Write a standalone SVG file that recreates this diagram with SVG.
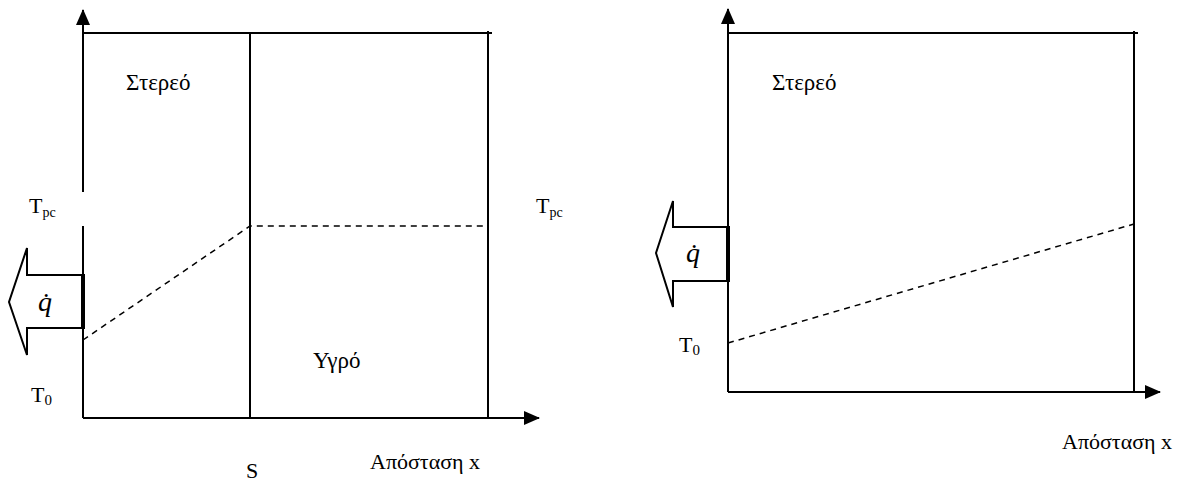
<svg xmlns="http://www.w3.org/2000/svg" width="1191" height="481" viewBox="0 0 1191 481">
<style>
.ln{stroke:#000;stroke-width:2;fill:none}
.ds{stroke:#000;stroke-width:1.5;fill:none;stroke-dasharray:6 5}
.ar{stroke:#000;stroke-width:2;fill:#fff}
.t{font-family:'Liberation Serif','Times New Roman',serif;font-size:22px;fill:#000}
.big{font-size:23px}
.q{font-family:'Liberation Serif','Times New Roman',serif;font-size:28px;font-style:italic;fill:#000}
</style>
<defs>
<marker id="ah" viewBox="0 0 16 14" refX="15" refY="7" markerWidth="16" markerHeight="14" markerUnits="userSpaceOnUse" orient="auto">
<path d="M0,0 L16,7 L0,14 Z" fill="#000"/>
</marker>
</defs>
<g id="connectors">
<line class="ln" x1="83" y1="192" x2="83" y2="10" marker-end="url(#ah)"/>
<line class="ln" x1="83" y1="226" x2="83" y2="418"/>
<line class="ln" x1="83" y1="418" x2="539" y2="418" marker-end="url(#ah)"/>
<line class="ln" x1="83" y1="33" x2="492" y2="33"/>
<line class="ln" x1="250" y1="33" x2="250" y2="418"/>
<line class="ln" x1="488" y1="31" x2="488" y2="418"/>
<polyline class="ds" points="83,340 250,226 488,226"/>
<line class="ln" x1="728" y1="392" x2="728" y2="9" marker-end="url(#ah)"/>
<line class="ln" x1="728" y1="392" x2="1160" y2="392" marker-end="url(#ah)"/>
<line class="ln" x1="728" y1="33" x2="1138" y2="33"/>
<line class="ln" x1="1134" y1="31" x2="1134" y2="392"/>
<line class="ds" x1="728" y1="343" x2="1134" y2="224"/>
</g>
<g id="left-heat-arrow">
<path class="ar" d="M82,275 L27,275 L27,248 L9,302 L27,355 L27,328 L82,328"/>
<line x1="83" y1="274" x2="83" y2="329" stroke="#000" stroke-width="4"/>
<text class="q" x="45" y="311" text-anchor="middle">q̇</text>
</g>
<g id="right-heat-arrow">
<path class="ar" d="M727,227 L673,227 L673,201 L656,253 L673,307 L673,281 L727,281"/>
<line x1="728" y1="226" x2="728" y2="282" stroke="#000" stroke-width="4"/>
<text class="q" x="693" y="262" text-anchor="middle">q̇</text>
</g>
<g id="labels-left">
<text class="t big" x="126" y="90">Στερεό</text>
<text class="t big" x="313" y="368">Υγρό</text>
<text class="t" x="29" y="213">T<tspan font-size="14" dy="4">pc</tspan></text>
<text class="t" x="536" y="213">T<tspan font-size="14" dy="4">pc</tspan></text>
<text class="t" x="31" y="402">T<tspan font-size="15" dy="3">0</tspan></text>
<text class="t" x="246" y="478">S</text>
<text class="t" x="370" y="469">Απόσταση x</text>
</g>
<g id="labels-right">
<text class="t big" x="772" y="90">Στερεό</text>
<text class="t" x="679" y="352">T<tspan font-size="15" dy="3">0</tspan></text>
<text class="t" x="1062" y="449">Απόσταση x</text>
</g>
</svg>
